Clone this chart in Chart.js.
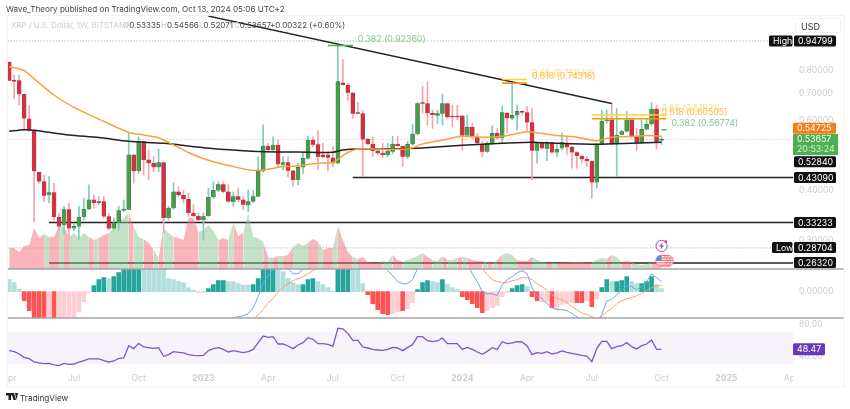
<!DOCTYPE html>
<html>
<head>
<meta charset="utf-8">
<title>XRP / U.S. Dollar</title>
<script src="https://cdn.jsdelivr.net/npm/chart.js@4/dist/chart.umd.min.js"></script>
<style>
    html, body { margin: 0; padding: 0; background: #fff; overflow: hidden; }
    #page { position: relative; width: 850px; height: 409px; font-family: Inter, sans-serif; filter: blur(.3px); }
    #chart { position: absolute; left: 0; top: 0; }
    .txt { position: absolute; white-space: nowrap; line-height: 10px; z-index: 2; }
    .title { left: 6px; top: 4px; font-size: 8.1px; color: #444; }
    .sym { left: 11px; top: 20px; font-size: 7.9px; color: #c9ccd2; }
    .ohlc { top: 20px; font-size: 8px; color: #4a4a4a; }
    .ohlc i { font-style: normal; color: #c9ccd2; }
    #usd { position: absolute; left: 795px; top: 18px; width: 46px; height: 15px; border: 1px solid #f2f2f4; border-radius: 3px;
           font-size: 9px; line-height: 15px; color: #333; text-indent: 5px; z-index: 2; box-sizing: border-box; }
    #logo { position: absolute; left: 6px; top: 393px; z-index: 2; }
    .brand { left: 20px; top: 393px; font-size: 8.2px; color: #333; }
</style>
</head>
<body>
<div id="page">
    <canvas id="chart" width="850" height="409"></canvas>
    <div class="txt title">Wave_Theory published on TradingView.com, Oct 13, 2024 05:06 UTC+2</div>
    <div class="txt sym">XRP / U.S. Dollar, 1W, BITSTAMP</div>
    <div class="txt ohlc" style="left:123px"><i>O</i>0.53335</div>
    <div class="txt ohlc" style="left:161px"><i>H</i>0.54566</div>
    <div class="txt ohlc" style="left:199px"><i>L</i>0.52071</div>
    <div class="txt ohlc" style="left:234px"><i>C</i>0.53657</div>
    <div class="txt ohlc" style="left:270px">+0.00322 (+0.60%)</div>
    <div id="usd">USD</div>
    <svg id="logo" width="12" height="7" viewBox="0 0 12 7">
        <path d="M0 0h5v7H2.500V2.500H0z M5.500 0L8 0 10 7H7.500z" fill="#222"/>
        <circle cx="6" cy="1.300" r="1.200" fill="#222"/>
        <path d="M9 0h3L10.500 7z" fill="#222"/>
    </svg>
    <div class="txt brand">TradingView</div>
</div>
<script>
// weekly candles, first bar is April 2022
const opens = [
    .839, .755, .754, .697, .605, .565, .444, .421, .389, .395,
    .343, .327, .358, .321, .325, .343, .359, .379, .375, .375,
    .344, .321, .332, .356, .358, .491, .447, .530, .477, .468,
    .457, .470, .341, .361, .397, .389, .380, .351, .345, .337,
    .345, .385, .400, .414, .397, .374, .386, .379, .367, .375,
    .386, .447, .517, .505, .520, .464, .470, .448, .425, .457,
    .481, .535, .521, .491, .491, .483, .468, .745, .735, .703,
    .625, .623, .537, .523, .503, .496, .491, .500, .523, .517,
    .486, .522, .554, .662, .660, .625, .616, .623, .660, .612,
    .612, .615, .549, .577, .545, .522, .500, .525, .556, .541,
    .625, .606, .617, .632, .627, .592, .503, .527, .509, .527,
    .498, .510, .525, .513, .498, .488, .479, .474, .419, .521,
    .597, .601, .522, .552, .562, .601, .545, .527, .569, .586,
    .640, .53335
];
const closes = [
    .754, .750, .697, .606, .567, .447, .421, .388, .395, .343,
    .325, .358, .321, .325, .343, .359, .379, .372, .372, .344,
    .321, .332, .356, .359, .491, .447, .530, .477, .468, .457,
    .470, .341, .361, .397, .389, .380, .351, .345, .337, .344,
    .385, .400, .414, .397, .375, .386, .379, .368, .375, .386,
    .447, .517, .505, .520, .465, .470, .448, .425, .457, .482,
    .535, .521, .486, .485, .483, .468, .750, .735, .703, .623,
    .623, .537, .523, .503, .496, .491, .503, .523, .517, .486,
    .522, .554, .660, .660, .625, .618, .623, .660, .610, .610,
    .610, .549, .576, .545, .525, .500, .525, .556, .541, .627,
    .607, .617, .632, .627, .592, .503, .527, .510, .527, .498,
    .508, .527, .513, .498, .488, .479, .474, .419, .523, .597,
    .601, .523, .551, .562, .601, .548, .527, .569, .586, .640,
    .530, .53657
];
const highs = [
    .839, .779, .779, .697, .655, .565, .444, .437, .433, .417,
    .351, .365, .372, .331, .365, .382, .413, .390, .386, .386,
    .351, .341, .365, .379, .556, .491, .545, .530, .505, .486,
    .508, .470, .365, .418, .409, .401, .394, .368, .351, .351,
    .405, .421, .421, .421, .413, .397, .405, .386, .401, .401,
    .486, .584, .525, .545, .535, .486, .486, .450, .468, .496,
    .547, .545, .565, .525, .500, .515, .926, .852, .7425, .703,
    .664, .636, .540, .545, .510, .525, .525, .547, .547, .517,
    .530, .587, .664, .731, .750, .636, .636, .698, .660, .655,
    .655, .615, .618, .589, .556, .530, .530, .581, .572, .651,
    .627, .750, .655, .634, .649, .642, .527, .527, .530, .527,
    .523, .556, .545, .515, .500, .491, .486, .474, .525, .636,
    .636, .662, .642, .567, .631, .603, .572, .601, .606, .664,
    .655, .54566
];
const lows = [
    .754, .680, .655, .567, .562, .334, .417, .375, .372, .337,
    .318, .312, .300, .317, .302, .337, .358, .361, .368, .341,
    .318, .318, .318, .354, .358, .417, .441, .437, .425, .445,
    .445, .312, .337, .358, .386, .372, .344, .344, .334, .300,
    .344, .382, .397, .394, .372, .365, .375, .358, .354, .372,
    .386, .445, .500, .500, .459, .450, .433, .409, .413, .441,
    .479, .515, .450, .481, .448, .459, .466, .735, .674, .606,
    .623, .433, .520, .486, .491, .484, .486, .494, .515, .459,
    .481, .519, .551, .625, .584, .572, .589, .584, .606, .578,
    .601, .505, .545, .540, .520, .486, .498, .520, .540, .525,
    .556, .601, .567, .619, .562, .425, .468, .507, .475, .496,
    .486, .505, .496, .454, .454, .468, .459, .382, .405, .520,
    .589, .520, .433, .551, .560, .543, .503, .525, .567, .583,
    .508, .52071
];

// moving averages, read at the weeks where the curve could be seen clearly
const ema50Weeks = [0, 3, 5, 9, 13, 18, 24, 26, 30, 33, 36, 40, 45, 49, 52, 55, 58, 62, 65, 66, 68, 70, 72, 80, 83, 87, 91, 95, 99, 104, 106, 110, 113, 116, 118, 121, 126, 128, 131];
const ema50 = [.817, .7995, .762, .694, .646, .604, .559, .553, .542, .520, .498, .476, .459, .449, .452, .459, .461, .468, .470, .479, .498, .508, .509, .508, .523, .535, .547, .544, .547, .561, .558, .549, .546, .538, .533, .544, .547, .549, .54725];
const ema200Weeks = [0, 3, 5, 12, 18, 24, 31, 39, 45, 51, 58, 65, 67, 70, 80, 85, 91, 99, 105, 110, 118, 125, 131];
const ema200 = [.5628, .568, .566, .551, .543, .531, .525, .512, .505, .500, .4995, .4985, .505, .508, .509, .513, .519, .525, .5285, .525, .522, .525, .5284];

// lower band of the main pane, the colour changes week by week
const volumeArea = [
    21, 21, 17, 23, 24, 41, 31, 35, 32, 32,
    43, 42, 32, 36, 31, 36, 32, 29, 31, 34,
    36, 41, 49, 51, 56, 42, 32, 30, 26, 19,
    11, 41, 36, 32, 31, 29, 51, 51, 37, 39,
    44, 38, 29, 31, 29, 46, 33, 36, 56, 32,
    31, 27, 12, 11, 13, 13, 14, 22, 26, 23,
    26, 30, 27, 19, 21, 21, 43, 29, 17, 12,
    10, 12, 7, 6, 6, 8, 7, 14, 9, 7,
    9, 11, 13, 16, 12, 9, 8, 13, 9, 9,
    11, 12, 11, 9, 8, 8, 7, 6, 9, 14,
    16, 14, 9, 8, 8, 12, 9, 7, 6, 6,
    6, 6, 6, 7, 7, 7, 6, 7, 9, 11,
    10, 14, 12, 7, 8, 7, 5, 4, 5, 7,
    6, 5
];
const volumeTones = ('rrrrrrr' + 'g' + 'rr' + 'g' + 'r' + 'gggg' + 'r' + 'g' + 'rr' + 'gggg' + 'r' + 'gg' + 'rr' + 'g' + 'r' + 'gg' +
    'rrrrr' + 'gggg' + 'rr' + 'g' + 'rr' + 'gggg' + 'r' + 'g' + 'r' + 'g' + 'rr' + 'ggg' + 'rr' + 'g' + 'rr' + 'g' + 'rrr' + 'g' +
    'rrrrr' + 'gg' + 'rr' + 'gggg' + 'rr' + 'gg' + 'r' + 'gg' + 'r' + 'g' + 'rrr' + 'g' + 'r' + 'g' + 'r' + 'ggg' + 'rrr' + 'ggg' +
    'r' + 'g' + 'rrrrrrr' + 'ggg' + 'r' + 'gg' + 'rr' + 'gggg' + 'rrr').split('');

// MACD pane in thousandths, bars past the pane edge get cut off there
const macdHist = [
    12, 9, 2.5, -9, -19, -30, -30, -30, -30, -30,
    -30, -30, -30, -26, -20, -10, -1, 6, 12, 14,
    13, 15, 19, 30, 30, 30, 30, 30, 30, 30,
    30, 30, 13, 12, 10, 9, 4, 1.5, -1, -1,
    3, 7, 11, 11, 10, 10, 8, 6.5, 6.5, 7,
    13, 30, 30, 30, 30, 20, 13, 9, 7, 7,
    12, 13, 10, 7, 4, .5, 30, 30, 30, 30,
    22, 8, -3, -12, -18, -22, -23, -22, -20, -19,
    -17, -11, 2, 9, 11, 10, 9, 12, 7, 4,
    2, -5, -8, -12, -16, -21, -19, -16, -14, -5,
    -1, 3, 6, 7, 5, -5, -9, -10, -10, -16,
    -17, -13, -12, -11, -11, -11, -9, -15, -7.5, 4,
    12, 10, 10, 11, 15, 10, 8, 8, 10, 15,
    7, 3
];
const macdShades = ('lll' + 'ddddd' + 'l' + 'd' + 'lllllll' + 'ddd' + 'l' + 'dddddd' + 'lllllllllllll' + 'dddd' + 'lllll' + 'ddddd' + 'lllll' +
    'ddd' + 'llll' + 'ddd' + 'lll' + 'ddddd' + 'll' + 'd' + 'll' + 'ddd' + 'll' + 'd' + 'lll' + 'ddddd' + 'lllll' + 'ddd' + 'l' + 'dd' + 'll' +
    'd' + 'llll' + 'dd' + 'l' + 'd' + 'l' + 'dd' + 'l' + 'ddd' + 'll' + 'ddd' + 'll').split('');
const n = null;
const macdLine = [
    n, n, n, n, n, n, n, n, n, n,
    n, n, n, n, n, n, n, n, n, n,
    n, n, n, n, n, n, n, n, n, n,
    n, n, n, n, n, n, n, n, n, n,
    n, n, n, n, n, -26, -25, -24, -22, -16,
    -5, 9, 16, 22.3, 28, 28, 22.7, 18, 18, 22.7,
    28, n, n, n, n, n, n, n, n, n,
    n, n, n, n, n, 27, 21, 16, 10, 8,
    8, 12, 23, 30, n, n, n, n, n, n,
    n, n, 28, 18, 10, 0, -2, -2, -4, 7,
    12, 15, 19, 21, 18, 4, -4, -7, -12, -16,
    -18, -18, -19, -22, -25, -28, -32, -33, -30, -23,
    -9, -8, -3, 1, 6, 5, 2, 5, 10, 18,
    14, 10
];
const macdSignal = [
    n, n, n, n, n, n, n, n, n, n,
    n, n, n, n, n, n, n, n, n, n,
    n, n, n, n, n, n, n, n, n, n,
    n, n, n, n, n, n, n, n, n, n,
    n, n, n, n, n, n, n, n, -32, -28,
    -23, -18, -11, -7, 0, 5, 8, 11, 13, 15,
    18, 21, 24, 28, n, n, n, n, n, n,
    n, n, n, n, n, n, n, n, n, n,
    27, 22, 24, n, n, n, n, n, n, n,
    n, n, n, n, 28, 23, 17, 12, 10, 9,
    9, 11, 12, 14, 14, 12, 8, 5, 2, -3,
    -7, -8, -11, -15, -18, -21, -23, -25, -27, -25,
    -20, -17, -12, -9, -7, -6, -4, -2, 1, 4,
    6, 6
];

const rsi = [
    46.7, 45.4, 42.5, 38.3, 36.7, 32.5, 31.3, 30.4, 30.8, 28.8,
    27.9, 30.8, 29.6, 30, 32.5, 34.2, 36.3, 36.3, 36.3, 34.2,
    32.5, 33.8, 37.1, 37.5, 52.9, 49.2, 55.8, 51.3, 50.4, 49.6,
    50.4, 39.6, 41.7, 45.4, 44.6, 43.8, 41.7, 40.8, 40.4, 40.8,
    46.7, 49.2, 50.4, 48.3, 45, 46.7, 45.4, 44.2, 45.4, 48.3,
    56.7, 65, 63.3, 64.2, 55, 55, 52.5, 49.2, 53.8, 56.7,
    62.9, 60.8, 55.4, 55.4, 54.6, 52.1, 74.6, 73.8, 68.3, 59.6,
    59.6, 51.3, 50, 48.3, 47.5, 47.1, 48.3, 50.8, 50, 46.7,
    50.8, 54.2, 64.2, 64.2, 59.2, 57.9, 58.8, 62.5, 55.4, 55.4,
    55.4, 48.3, 50.8, 48.3, 45, 42.1, 45.8, 50.4, 48.3, 57.9,
    55.4, 56.3, 57.9, 57.5, 52.5, 41.7, 44.2, 43.3, 45.4, 42.5,
    43.8, 46.3, 44.6, 43.3, 42.1, 40.8, 40, 32.9, 49.6, 58.3,
    58.3, 49.2, 51.7, 52.9, 56.7, 51.7, 48.8, 52.9, 55, 60,
    48.3, 48.47
];

const rsiBand = [70, 30];

// drawn levels and the falling trend line
const levelValues = [.4309, .33233, .2632];
const levelStarts = [69, 8, 8];
const trendWeeks = [40, 121];
const trendValues = [1.095, .6607];

const fibLabels = ['0.382 (0.92360)', '0.65 (0.75932)', '0.618 (0.74316)', '0.65 (0.61821)', '0.618 (0.60505)', '0.382 (0.56774)'];
const fibValues = [.9236, .75932, .74316, .61821, .60505, .56774];
const fibStarts = [64, 99, 99, 117, 117, 131];
const fibEnds = [69, 104, 104, 132, 132, 132];
const fibLabelWeeks = [70, 105, 105, 131, 131, 133];

const xTickWeeks = [0, 13, 26, 39, 52, 65, 78, 91, 104, 117, 131, 144, 157];
const xTickLabels = ['Apr', 'Jul', 'Oct', '2023', 'Apr', 'Jul', 'Oct', '2024', 'Apr', 'Jul', 'Oct', '2025', 'Apr'];
const priceTicks = [.8, .7, .6, .4, .3];
const macdTicks = [0];
const rsiTicks = [80, 40];

const highValue = .94799;
const lowValue = .28704;
const lastValue = .53657;
const ema50Last = .54725;
const ema200Last = .5284;
const rsiLast = 48.47;
const countdown = '20:53:24';

const WEEK_MIN = -0.3;
const WEEK_MAX = 157.4;
const GREEN_BODY = '#43a047';
const RED_BODY = '#dd2c3c';
const tickFont = { family: 'Inter', size: 8.6 };

function flatLine(from, to, value) {
    return [{ x: from, y: value }, { x: to, y: value }];
}

function lineSet(data, axis, color, width, extra) {
    return Object.assign({
        type: 'line',
        data: data,
        yAxisID: axis,
        borderColor: color,
        borderWidth: width,
        pointRadius: 0,
        fill: false
    }, extra || {});
}

const weeks = opens.map((v, i) => i);
const isUp = weeks.map(i => closes[i] >= opens[i]);

const fibColors = ['#4caf50', '#fdd835', '#ff9800', '#fdd835', '#ff9800', '#4caf50'];
const fibTextColors = ['#86c78a', '#ffe082', '#ffb74d', '#ffe082', '#ffb74d', '#86c78a'];

// first dataset in the list ends up on top
const datasets = [];
fibValues.forEach((v, i) => {
    datasets.push(lineSet(flatLine(fibStarts[i], fibEnds[i], v), 'y', fibColors[i], 1.6));
});
datasets.push(lineSet(trendWeeks.map((w, i) => ({ x: w, y: trendValues[i] })), 'y', '#222', 1.4));
datasets.push(lineSet(ema50Weeks.map((w, i) => ({ x: w, y: ema50[i] })), 'y', '#f7a23b', 1.5, { tension: .25 }));
datasets.push(lineSet(ema200Weeks.map((w, i) => ({ x: w, y: ema200[i] })), 'y', '#222', 1.5, { tension: .25 }));
datasets.push({
    type: 'bar',
    data: weeks.map(i => ({ x: i, y: [opens[i], closes[i]] })),
    yAxisID: 'y',
    grouped: false,
    barPercentage: 1,
    categoryPercentage: 1,
    maxBarThickness: 4,
    minBarLength: 1.2,
    backgroundColor: weeks.map(i => isUp[i] ? GREEN_BODY : RED_BODY),
    borderColor: 'rgba(40,40,40,.75)',
    borderWidth: .5
});
datasets.push({
    type: 'bar',
    data: weeks.map(i => ({ x: i, y: [lows[i], highs[i]] })),
    yAxisID: 'y',
    grouped: false,
    barPercentage: 1,
    categoryPercentage: 1,
    maxBarThickness: 1,
    backgroundColor: weeks.map(i => isUp[i] ? '#7fcdbb' : '#f8a3ac')
});
datasets.push(lineSet(volumeArea.map((v, i) => ({ x: i, y: v })), 'volume', 'transparent', 0, {
    fill: 'origin',
    backgroundColor: 'rgba(244,107,117,.5)',
    segment: {
        backgroundColor: ctx => volumeTones[ctx.p0DataIndex] === 'g' ? 'rgba(137,197,139,.5)' : 'rgba(244,107,117,.5)'
    }
}));
levelValues.forEach((v, i) => {
    datasets.push(lineSet(flatLine(levelStarts[i], WEEK_MAX, v), 'y', '#222', 1.5));
});
datasets.push(lineSet(flatLine(WEEK_MIN, WEEK_MAX, highValue), 'y', '#9a9a9a', 1, { borderDash: [1, 2] }));
datasets.push(lineSet(flatLine(WEEK_MIN, WEEK_MAX, lowValue), 'y', '#9a9a9a', 1, { borderDash: [1, 2] }));
datasets.push(lineSet(flatLine(WEEK_MIN, WEEK_MAX, lastValue), 'y', '#f3b0b0', 1, { borderDash: [1, 2] }));
datasets.push(lineSet(macdLine.map((v, i) => ({ x: i, y: v })), 'macd', '#6ea2f5', 1));
datasets.push(lineSet(macdSignal.map((v, i) => ({ x: i, y: v })), 'macd', '#f5a868', 1));
datasets.push({
    type: 'bar',
    data: weeks.map(i => ({ x: i, y: macdHist[i] })),
    yAxisID: 'macd',
    grouped: false,
    barPercentage: 1,
    categoryPercentage: 1,
    maxBarThickness: 4,
    backgroundColor: weeks.map(i => {
        if (macdHist[i] >= 0) return macdShades[i] === 'd' ? '#26a69a' : '#b2dfdb';
        return macdShades[i] === 'd' ? '#ff5252' : '#ffcdd2';
    })
});
datasets.push(lineSet(rsi.map((v, i) => ({ x: i, y: v })), 'rsi', '#7e57c2', 1.3));
datasets.push(lineSet(flatLine(WEEK_MIN, WEEK_MAX, rsiBand[0]), 'rsi', 'transparent', 0, {
    fill: { target: { value: rsiBand[1] } },
    backgroundColor: 'rgba(126,87,194,.07)'
}));

function priceTag(ctx, text, y, color, left, right, height) {
    ctx.fillStyle = color;
    ctx.beginPath();
    ctx.roundRect(left, y - height / 2, right - left, height, 1.5);
    ctx.fill();
    ctx.fillStyle = '#fff';
    ctx.fillText(text, left + 4, y + .5);
}

const overlayPlugin = {
    id: 'overlay',
    afterDatasetsDraw(chart) {
        const ctx = chart.ctx;
        const x = chart.scales.x;
        const y = chart.scales.y;
        ctx.save();
        ctx.textBaseline = 'middle';
        ctx.textAlign = 'left';

        // fib labels sit just above their level
        ctx.font = '8.8px Inter';
        fibLabels.forEach((label, i) => {
            ctx.fillStyle = fibTextColors[i];
            ctx.fillText(label, x.getPixelForValue(fibLabelWeeks[i]), y.getPixelForValue(fibValues[i]) - 6.5);
        });

        // event icons over the last bar
        const iconX = x.getPixelForValue(131);
        const boltY = y.getPixelForValue(lowValue) - 2;
        ctx.beginPath();
        ctx.arc(iconX, boltY, 5.6, 0, Math.PI * 2);
        ctx.fillStyle = '#fff';
        ctx.fill();
        ctx.strokeStyle = '#ab47bc';
        ctx.lineWidth = 1;
        ctx.stroke();
        ctx.fillStyle = '#ab47bc';
        ctx.beginPath();
        ctx.moveTo(iconX + 1, boltY - 3.5);
        ctx.lineTo(iconX - 2.5, boltY + .5);
        ctx.lineTo(iconX - .3, boltY + .5);
        ctx.lineTo(iconX - 1, boltY + 3.5);
        ctx.lineTo(iconX + 2.5, boltY - .5);
        ctx.lineTo(iconX + .3, boltY - .5);
        ctx.fill();
        ctx.fillStyle = '#f23645';
        ctx.beginPath();
        ctx.arc(iconX + 4.3, boltY - 4.3, 1.4, 0, Math.PI * 2);
        ctx.fill();
        const flagY = y.getPixelForValue(levelValues[2]) - 2;
        [iconX + 6, iconX + 3, iconX].forEach(cx => {
            ctx.save();
            ctx.beginPath();
            ctx.arc(cx, flagY, 5.8, 0, Math.PI * 2);
            ctx.fillStyle = '#fff';
            ctx.fill();
            ctx.clip();
            ctx.fillStyle = '#f0737c';
            for (let s = -6; s < 6; s += 2.4) ctx.fillRect(cx - 6, flagY + s, 12, 1.3);
            ctx.fillStyle = '#4a90e2';
            ctx.fillRect(cx - 6, flagY - 6, 6, 6);
            ctx.restore();
            ctx.strokeStyle = '#f0737c';
            ctx.lineWidth = .8;
            ctx.beginPath();
            ctx.arc(cx, flagY, 5.8, 0, Math.PI * 2);
            ctx.stroke();
        });

        // price tags on the right axis, overlapping ones are pushed apart as in the screenshot
        ctx.font = '8.8px Inter';
        const tagLeft = 794;
        const tagRight = 836;
        priceTag(ctx, highValue.toFixed(5), y.getPixelForValue(highValue), '#111', tagLeft, tagRight, 11);
        priceTag(ctx, 'High', y.getPixelForValue(highValue), '#111', 769, 792.5, 11);
        priceTag(ctx, lowValue.toFixed(5), y.getPixelForValue(lowValue) - .5, '#111', tagLeft, tagRight, 11);
        priceTag(ctx, 'Low', y.getPixelForValue(lowValue) - .5, '#111', 772, 792.5, 11);
        priceTag(ctx, levelValues[0].toFixed(5), y.getPixelForValue(levelValues[0]), '#111', tagLeft, tagRight, 11);
        priceTag(ctx, levelValues[1].toFixed(5), y.getPixelForValue(levelValues[1]), '#111', tagLeft, tagRight, 11);
        priceTag(ctx, levelValues[2].toFixed(5), y.getPixelForValue(levelValues[2]) - .5, '#111', tagLeft, tagRight, 11);
        priceTag(ctx, ema200Last.toFixed(5), y.getPixelForValue(ema200Last) + 19.5, '#111', tagLeft, tagRight, 11);
        priceTag(ctx, ema50Last.toFixed(5), y.getPixelForValue(ema50Last) - 8, '#f57f17', 793, tagRight, 11);
        ctx.fillStyle = '#4caf50';
        ctx.fillRect(793, y.getPixelForValue(lastValue) - 5.5, 45, 21);
        ctx.fillStyle = '#fff';
        ctx.fillText(lastValue.toFixed(5), 797, y.getPixelForValue(lastValue));
        ctx.fillStyle = '#d9f0da';
        ctx.fillText(countdown, 797, y.getPixelForValue(lastValue) + 10);
        priceTag(ctx, rsiLast.toFixed(2), chart.scales.rsi.getPixelForValue(rsiLast), '#673ab7', 793, 825, 12);
        ctx.restore();
    },
    afterDraw(chart) {
        const ctx = chart.ctx;
        const area = chart.chartArea;
        ctx.save();
        // date labels are cut off at both ends of the time axis
        ctx.fillStyle = '#fff';
        ctx.fillRect(0, area.bottom, area.left, 16);
        ctx.fillRect(area.right, area.bottom, 60, 16);
        // pane separators and the outer frame
        ctx.strokeStyle = '#a3a3a3';
        ctx.lineWidth = 1.3;
        [chart.scales.macd.top, chart.scales.macd.bottom].forEach(yPos => {
            ctx.beginPath();
            ctx.moveTo(area.left, yPos);
            ctx.lineTo(844, yPos);
            ctx.stroke();
        });
        ctx.strokeStyle = '#f1f1f3';
        ctx.lineWidth = 1;
        ctx.strokeRect(area.left - .5, area.top - .5, 844.5 - area.left, 387.5 - area.top);
        ctx.restore();
    }
};

function yAxis(stackWeight, order, min, max, ticks, decimals, type) {
    return {
        type: type || 'linear',
        position: 'right',
        stack: 'panes',
        stackWeight: stackWeight,
        weight: order,
        min: min,
        max: max,
        bounds: 'data',
        grid: { display: false, drawTicks: false },
        border: { display: false },
        afterFit: scale => { scale.width = 51; },
        afterBuildTicks: scale => { scale.ticks = ticks.map(v => ({ value: v })); },
        ticks: {
            autoSkip: false,
            font: tickFont,
            color: '#c9ccd2',
            padding: 6,
            callback: v => Number(v).toFixed(decimals)
        }
    };
}

new Chart(document.getElementById('chart').getContext('2d'), {
    type: 'bar',
    data: { datasets: datasets },
    plugins: [overlayPlugin],
    options: {
        responsive: false,
        animation: false,
        layout: { padding: { left: 6, right: 6, top: 16, bottom: 22 } },
        plugins: {
            legend: { display: false },
            tooltip: { enabled: false }
        },
        scales: {
            x: {
                type: 'linear',
                min: WEEK_MIN,
                max: WEEK_MAX,
                offset: false,
                bounds: 'data',
                grid: { display: false, drawTicks: false },
                border: { display: false },
                afterFit: scale => { scale.height = 16; },
                afterBuildTicks: scale => { scale.ticks = xTickWeeks.map(v => ({ value: v })); },
                ticks: {
                    autoSkip: false,
                    maxRotation: 0,
                    padding: 2,
                    color: '#c9ccd2',
                    font: ctx => {
                        const isYear = ctx.tick && /^\d{4}$/.test(ctx.tick.label);
                        return { family: 'Inter', size: 8.6, weight: isYear ? 'bold' : 'normal' };
                    },
                    callback: v => xTickLabels[xTickWeeks.indexOf(v)]
                }
            },
            y: yAxis(253, 1, .2541, 1.0952, priceTicks, 5, 'logarithmic'),
            macd: yAxis(49, 2, -26.3, 22.7, macdTicks, 5),
            rsi: yAxis(53, 3, 21.25, 87.5, rsiTicks, 2),
            // shares the price pane, its zero sits on the lower edge of that pane
            volume: { type: 'linear', display: false, position: 'left', min: -102, max: 253 }
        }
    }
});
</script>
</body>
</html>
